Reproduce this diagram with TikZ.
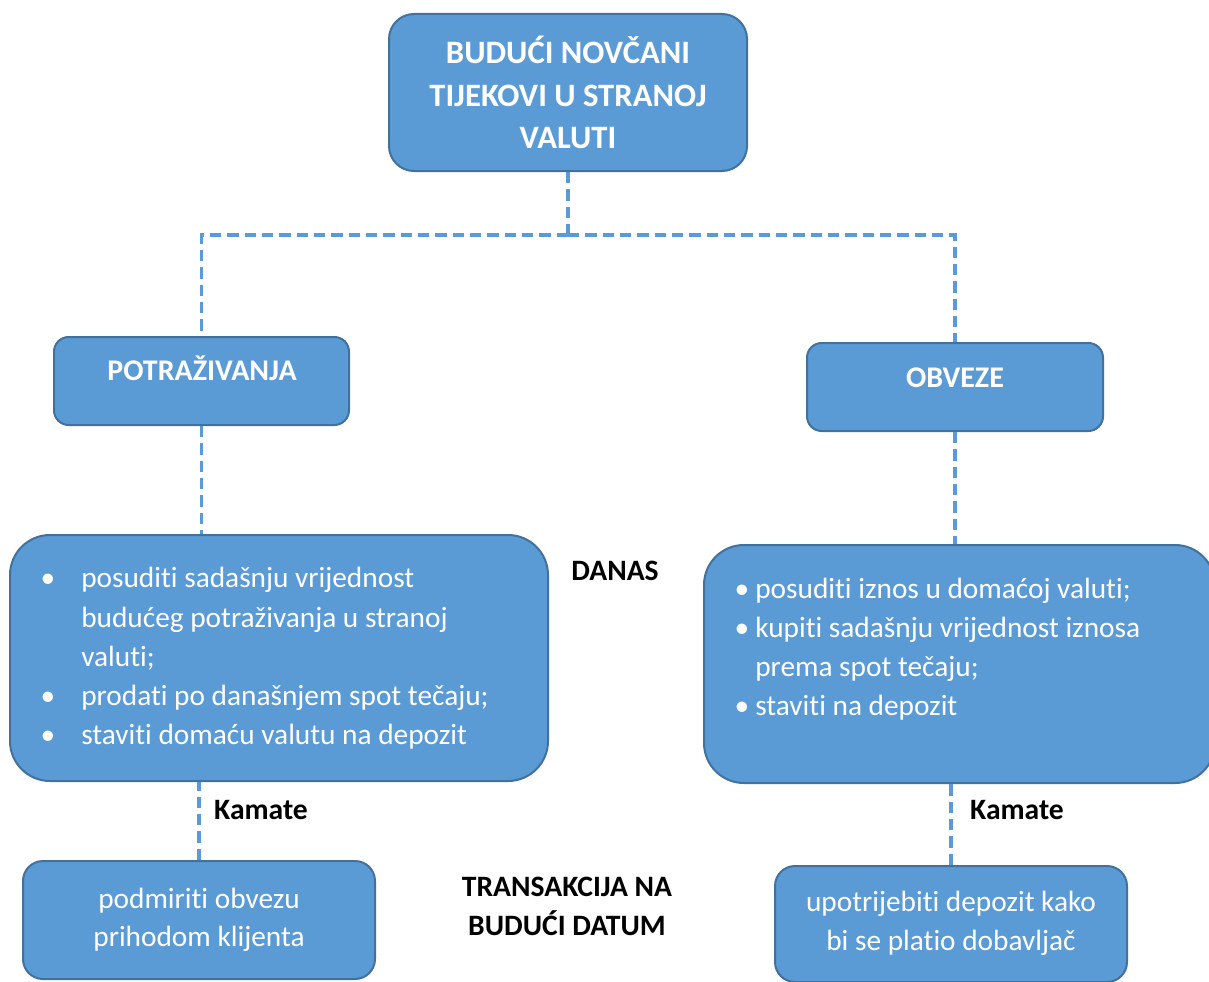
\documentclass[tikz,border=0pt]{standalone}
\usepackage{fontspec}
\setmainfont{Carlito}[Ligatures=NoCommon]
\definecolor{boxfill}{HTML}{5B9BD5}
\definecolor{boxedge}{HTML}{41719C}
\begin{document}
\begin{tikzpicture}[x=0.75pt,y=-0.75pt,
  box/.style={draw=boxedge, line width=1.5pt, fill=boxfill, inner sep=0pt},
  conn/.style={draw=boxfill, line width=2.8pt, dash pattern=on 8.5pt off 4.5pt},
  wt/.style={text=white, font=\fontsize{22}{26}\selectfont, inner sep=0pt},
  wb/.style={text=white, font=\fontsize{22.5}{26}\selectfont\bfseries, inner sep=0pt, anchor=base},
  kb/.style={text=black, font=\fontsize{22.2}{26}\selectfont\bfseries, inner sep=0pt, anchor=base}]
\useasboundingbox (0,0) rectangle (1209,981);
\clip (0,0) rectangle (1209,981);
% boxes
\node[box, rounded corners=18.75pt, minimum width=268.5pt, minimum height=117.75pt] (top) at (568,92.5) {};
\node[box, rounded corners=11pt, minimum width=221.25pt, minimum height=66pt] (pot) at (201.5,381) {};
\node[box, rounded corners=11pt, minimum width=222pt, minimum height=66pt] (obv) at (955,387) {};
\node[box, rounded corners=30pt, minimum width=403.5pt, minimum height=184.5pt] (bigL) at (279,658) {};
\node[box, rounded corners=30pt, minimum width=383.25pt, minimum height=178.5pt] (bigR) at (959.5,664) {};
\node[box, rounded corners=15pt, minimum width=264pt, minimum height=88.5pt] (botL) at (199,920) {};
\node[box, rounded corners=15pt, minimum width=264pt, minimum height=87pt] (botR) at (951,924) {};
% connectors
\coordinate (j) at (568,235);
\draw[conn] (top.south) -- (j);
\draw[conn] (j) -| (pot.north);
\draw[conn] (j) -| (obv.north);
\draw[conn] (pot.south) -- (pot.south |- bigL.north);
\draw[conn] (obv.south) -- (obv.south |- bigR.north);
\draw[conn] (botL.north) -- (botL.north |- bigL.south);
\draw[conn] (botR.north) -- (botR.north |- bigR.south);
% title
\node[wb, font=\fontsize{24.5}{28}\selectfont\bfseries] (t1) at (568,64) {BUDUĆI NOVČANI};
\node[wb, font=\fontsize{24.5}{28}\selectfont\bfseries] (t2) at (568,106) {TIJEKOVI U STRANOJ};
\node[wb, font=\fontsize{24.5}{28}\selectfont\bfseries] (t3) at (568,148) {VALUTI};
\node[wb] (potT) at (202,380) {POTRAŽIVANJA};
\node[wb] (obvT) at (955,387) {OBVEZE};
% left big box
\node[wt, anchor=base] (lb1) at (48,587) {•};
\node[wt, anchor=base west] (l1) at (81,587) {posuditi sadašnju vrijednost};
\node[wt, anchor=base west] (l2) at (81,627) {budućeg potraživanja u stranoj};
\node[wt, anchor=base west] (l3) at (81,666) {valuti;};
\node[wt, anchor=base] (lb2) at (48,705) {•};
\node[wt, anchor=base west] (l4) at (81,705) {prodati po današnjem spot tečaju;};
\node[wt, anchor=base] (lb3) at (48,744) {•};
\node[wt, anchor=base west] (l5) at (81,744) {staviti domaću valutu na depozit};
% right big box
\node[wt, anchor=base] (rb1) at (742,598) {•};
\node[wt, anchor=base west] (r1) at (755,598) {posuditi iznos u domaćoj valuti;};
\node[wt, anchor=base] (rb2) at (742,637) {•};
\node[wt, anchor=base west] (r2) at (755,637) {kupiti sadašnju vrijednost iznosa};
\node[wt, anchor=base west] (r3) at (755,676) {prema spot tečaju;};
\node[wt, anchor=base] (rb3) at (742,715) {•};
\node[wt, anchor=base west] (r4) at (755,715) {staviti na depozit};
% bottom boxes
\node[wt, anchor=base] (bl1) at (199,908) {podmiriti obvezu};
\node[wt, anchor=base] (bl2) at (199,946) {prihodom klijenta};
\node[wt, anchor=base] (br1) at (951,911) {upotrijebiti depozit kako};
\node[wt, anchor=base] (br2) at (951,950) {bi se platio dobavljač};
% side labels
\node[kb] (danas) at (615,580) {DANAS};
\node[kb] (kamL) at (261,819) {Kamate};
\node[kb] (kamR) at (1017,819) {Kamate};
\node[kb] (tr1) at (567,896) {TRANSAKCIJA NA};
\node[kb] (tr2) at (567,935) {BUDUĆI DATUM};
\end{tikzpicture}
\end{document}
